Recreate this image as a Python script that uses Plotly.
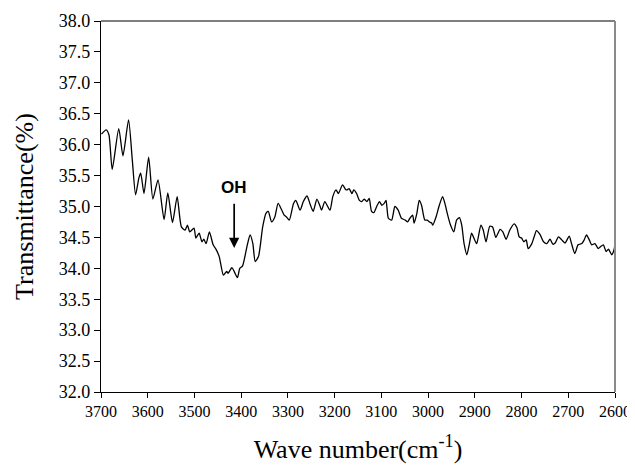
import plotly.graph_objects as go

wavenumber = [3699, 3689, 3683, 3676, 3662, 3653, 3641, 3633, 3626, 3619, 3615, 3608, 3598, 3589, 3578, 3565,
              3557, 3547, 3537, 3528, 3520, 3515, 3510, 3501, 3497, 3490, 3484, 3480, 3475, 3468, 3460, 3454,
              3447, 3444, 3438, 3431, 3428, 3420, 3415, 3408, 3403, 3397, 3388, 3381, 3375, 3370, 3363, 3354,
              3347, 3342, 3335, 3328, 3321, 3313, 3308, 3303, 3297, 3288, 3283, 3274, 3267, 3259, 3253, 3246,
              3238, 3231, 3228, 3221, 3210, 3204, 3197, 3192, 3183, 3176, 3173, 3169, 3163, 3159, 3153, 3147,
              3142, 3137, 3131, 3126, 3121, 3116, 3110, 3104, 3099, 3094, 3090, 3085, 3078, 3071, 3064, 3057,
              3049, 3044, 3039, 3033, 3030, 3024, 3019, 3014, 3007, 3002, 2997, 2992, 2990, 2983, 2976, 2969,
              2964, 2959, 2952, 2945, 2939, 2933, 2928, 2923, 2917, 2912, 2907, 2902, 2896, 2887, 2882, 2876,
              2868, 2862, 2855, 2846, 2840, 2833, 2825, 2816, 2810, 2805, 2800, 2795, 2790, 2786, 2778, 2773,
              2768, 2760, 2753, 2746, 2739, 2733, 2728, 2721, 2714, 2707, 2698, 2693, 2686, 2679, 2671, 2666,
              2661, 2655, 2650, 2643, 2636, 2631, 2625, 2619, 2614, 2607, 2602, 2600]
transmittance = [36.17, 36.24, 36.16, 35.60, 36.26, 35.82, 36.40, 35.75, 35.19, 35.46, 35.54, 35.21, 35.80, 35.12, 35.43, 34.79,
                 35.22, 34.74, 35.16, 34.67, 34.62, 34.70, 34.59, 34.65, 34.49, 34.57, 34.43, 34.47, 34.40, 34.59, 34.38, 34.31,
                 34.19, 34.08, 33.89, 33.95, 33.92, 34.01, 33.95, 33.85, 34.00, 34.04, 34.34, 34.54, 34.40, 34.11, 34.19, 34.67,
                 34.89, 34.92, 34.75, 34.83, 35.05, 34.94, 34.86, 34.83, 34.78, 35.05, 35.10, 34.94, 35.08, 35.17, 35.05, 34.92,
                 35.12, 35.00, 34.94, 35.08, 34.94, 35.16, 35.27, 35.21, 35.35, 35.27, 35.27, 35.29, 35.21, 35.27, 35.21, 35.10,
                 35.08, 35.12, 35.08, 35.13, 34.92, 34.90, 35.00, 35.08, 35.02, 35.05, 35.10, 34.81, 34.78, 35.00, 34.94, 34.81,
                 34.78, 34.75, 34.81, 34.86, 34.73, 34.89, 35.10, 35.02, 34.78, 34.78, 34.75, 34.73, 34.70, 34.83, 35.02, 35.16,
                 35.05, 34.89, 34.70, 34.59, 34.78, 34.82, 34.70, 34.40, 34.22, 34.38, 34.57, 34.49, 34.40, 34.70, 34.62, 34.43,
                 34.68, 34.67, 34.50, 34.63, 34.59, 34.47, 34.62, 34.72, 34.66, 34.51, 34.49, 34.43, 34.46, 34.32, 34.40, 34.51,
                 34.61, 34.54, 34.43, 34.40, 34.47, 34.39, 34.41, 34.51, 34.46, 34.41, 34.52, 34.40, 34.24, 34.38, 34.40, 34.46,
                 34.54, 34.46, 34.38, 34.40, 34.32, 34.35, 34.38, 34.27, 34.31, 34.22, 34.30, 34.40]

x_ticks = [3700, 3600, 3500, 3400, 3300, 3200, 3100, 3000, 2900, 2800, 2700, 2600]
y_ticks = [32.0 + 0.5 * i for i in range(13)]
peak_label = "OH"
peak_x = 3415
peak_text_y = 35.30
peak_arrow_top = 35.07
peak_arrow_tip = 34.33

fig = go.Figure()
fig.add_trace(go.Scatter(x=wavenumber, y=transmittance, mode="lines",
                         line=dict(color="black", width=1.3, shape="spline", smoothing=0.6),
                         showlegend=False, hoverinfo="skip"))

fig.add_annotation(x=peak_x, y=peak_text_y, text="<b>%s</b>" % peak_label, showarrow=False,
                   font=dict(family="Liberation Sans, Arial", size=17, color="black"))
fig.add_annotation(x=peak_x, y=peak_arrow_tip, ax=peak_x, ay=peak_arrow_top,
                   xref="x", yref="y", axref="x", ayref="y", text="", showarrow=True,
                   arrowhead=2, arrowsize=1.2, arrowwidth=1.7, arrowcolor="black")

# frame top & right
fig.add_shape(type="line", xref="paper", yref="paper", x0=0, x1=1, y0=1, y1=1,
              line=dict(color="#555555", width=1.5))
fig.add_shape(type="line", xref="paper", yref="paper", x0=1, x1=1, y0=0, y1=1,
              line=dict(color="#8a8a8a", width=2))

serif = "Liberation Serif, Times New Roman, serif"
# page body has an 8px margin, so the figure is sized/placed to compensate
fig.update_layout(
    width=627, height=461,
    margin=dict(l=93, r=20, t=13, b=77),
    paper_bgcolor="white", plot_bgcolor="white",
    font=dict(family=serif, color="black"),
    xaxis=dict(range=[3700, 2600], tickvals=x_ticks, ticktext=[str(v) for v in x_ticks],
               showgrid=False, zeroline=False, showline=True, linecolor="black", linewidth=1.2,
               ticks="outside", ticklen=5, tickcolor="black", tickfont=dict(family=serif, size=16),
               automargin=False,
               title=dict(text="Wave number(cm<sup>-1</sup>)", font=dict(family=serif, size=26), standoff=20)),
    yaxis=dict(range=[32.0, 38.0], tickvals=y_ticks, ticktext=["%.1f" % v for v in y_ticks],
               showgrid=False, zeroline=False, showline=True, linecolor="black", linewidth=1.2,
               ticks="outside", ticklen=6, tickcolor="black", tickfont=dict(family=serif, size=18),
               automargin=False,
               title=dict(text="Transmittance(%)", font=dict(family=serif, size=26), standoff=17)),
)

fig.write_html("out.html")
